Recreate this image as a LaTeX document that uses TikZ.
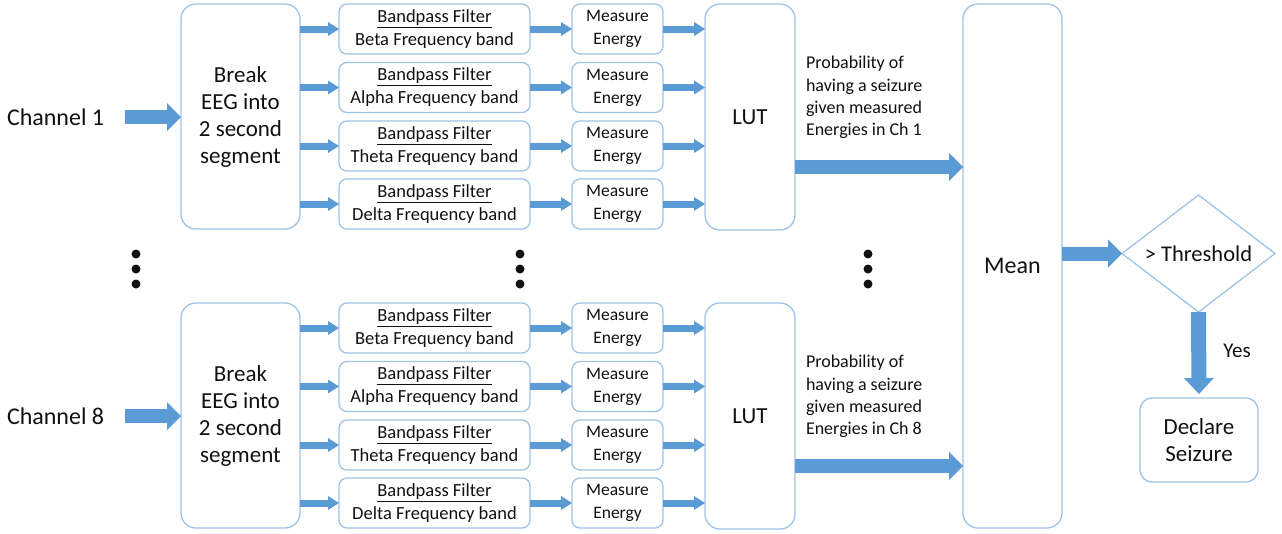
\documentclass[tikz,border=0pt]{standalone}
\usepackage{fontspec}
\setmainfont{Carlito}
\usetikzlibrary{arrows.meta,shapes.geometric}
\definecolor{boxc}{HTML}{9DC3E6}
\definecolor{arrc}{HTML}{5B9BD5}
\definecolor{txtc}{HTML}{111111}
\begin{document}
\begin{tikzpicture}[x=1pt,y=-1pt,
  box/.style={draw=boxc,line width=1.3pt,rounded corners=8pt,inner sep=0pt,outer sep=0pt,align=center,text=txtc},
  bigbox/.style={box,rounded corners=15pt},
  lbl/.style={inner sep=0pt,outer sep=0pt,text=txtc},
  fbig/.style={font=\fontsize{23}{27}\selectfont},
  fsmall/.style={font=\fontsize{17.5}{23}\selectfont},
  fband/.style={font=\fontsize{18.5}{23}\selectfont},
  fprob/.style={font=\fontsize{18}{22.3}\selectfont},
  smallarr/.style={draw=arrc,line width=7pt,-{Triangle[width=14pt,length=11pt,line width=0pt]}},
  bigarr/.style={draw=arrc,line width=14pt,-{Triangle[width=28pt,length=14pt,line width=0pt]}},
  downarr/.style={draw=arrc,line width=15pt,-{Triangle[width=30pt,length=16pt,line width=0pt]}}
]
\useasboundingbox (0,0) rectangle (1282,533);

\foreach \c/\o in {1/0,8/299}{
  \node[lbl,anchor=west,font=\fontsize{24}{28}\selectfont] (ch\c) at (7,117+\o) {Channel \c};
  \node[bigbox,fbig,minimum width=119pt,minimum height=225pt] (brk\c) at (240.5,116.5+\o) {Break\\EEG into\\2 second\\segment};
  \node[bigbox,font=\fontsize{23}{27}\selectfont,minimum width=90pt,minimum height=226pt] (lut\c) at (750,117+\o) {LUT};
  \node[lbl,fprob,anchor=west,align=left] (pr\c) at (806,97.5+\o) {Probability of\\having a seizure\\given measured\\Energies in Ch \c};
  \draw[bigarr,shorten <=21pt] (ch\c.east) -- (brk\c.west |- ch\c.east);
  \foreach \i/\b/\y in {1/Beta/29,2/Alpha/87.5,3/Theta/146,4/Delta/204}{
    \node[box,fband,minimum width=191pt,minimum height=50pt] (bp\c-\i) at (434.5,\y+\o) {\underline{Bandpass Filter}\\\b{} Frequency band};
    \node[box,fsmall,minimum width=91pt,minimum height=50pt] (me\c-\i) at (617.5,\y+\o) {Measure\\Energy};
    \draw[smallarr] (brk\c.east |- bp\c-\i.west) -- (bp\c-\i.west);
    \draw[smallarr] (bp\c-\i.east) -- (me\c-\i.west);
    \draw[smallarr] (me\c-\i.east) -- (lut\c.west |- me\c-\i.east);
  }
}

\node[bigbox,font=\fontsize{24}{28}\selectfont,minimum width=99pt,minimum height=524pt] (mean) at (1012.5,266) {Mean};
\node[draw=boxc,line width=1.3pt,diamond,aspect=1.31,inner sep=0pt,outer sep=0pt,minimum width=153pt,minimum height=117pt,text=txtc,font=\fontsize{22.5}{26}\selectfont] (thr) at (1198.5,253.5) {> Threshold};
\node[box,fbig,rounded corners=12pt,minimum width=118pt,minimum height=84pt] (dec) at (1199,440) {Declare\\Seizure};
\node[lbl,font=\fontsize{21}{25}\selectfont] (yes) at (1237,351) {Yes};

\foreach \c in {1,8}{
  \coordinate (o\c) at ([yshift=-50pt]lut\c.east);
  \draw[bigarr] (o\c) -- (mean.west |- o\c);
}
\draw[bigarr] (mean.east |- thr.west) -- (thr.west);
\draw[downarr,shorten >=4pt] (thr.south) -- (dec.north);

\foreach \x in {136,520,868}{
  \foreach \y in {254,269,284}{
    \fill[txtc] (\x,\y) circle (4.5pt);
  }
}
\end{tikzpicture}
\end{document}
